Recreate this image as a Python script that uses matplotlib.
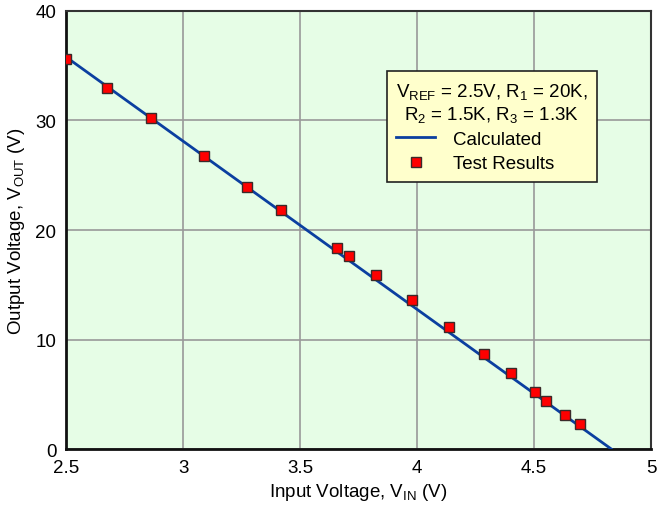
import numpy as np
import matplotlib
matplotlib.use('Agg')
import matplotlib.pyplot as plt
from matplotlib.lines import Line2D

plt.rcParams['font.family'] = ['Liberation Sans', 'DejaVu Sans']
plt.rcParams['mathtext.default'] = 'regular'

# calculated transfer line (end points)
vin_calc = [2.5, 4.83]
vout_calc = [35.8, 0.0]

# measured test results
vin_test = [2.50, 2.675, 2.863, 3.09, 3.273, 3.419, 3.658, 3.709, 3.825,
            3.979, 4.137, 4.286, 4.402, 4.504, 4.551, 4.632, 4.697]
vout_test = [35.6, 33.0, 30.2, 26.8, 23.9, 21.8, 18.4, 17.6, 15.9,
             13.6, 11.1, 8.7, 6.9, 5.2, 4.4, 3.1, 2.3]

xticks = [2.5, 3, 3.5, 4, 4.5, 5]
xticklabels = ['2.5', '3', '3.5', '4', '4.5', '5']
yticks = [0, 10, 20, 30, 40]

fig = plt.figure(figsize=(6.57, 5.10), dpi=100, facecolor='w')
ax = fig.add_axes([0.1005, 0.1176, 0.8905, 0.8589])
ax.set_facecolor('#e6fde6')

ax.plot(vin_calc, vout_calc, color='#0b3fa0', lw=2, zorder=3)
ax.plot(vin_test, vout_test, ls='none', marker='s', ms=7.9, mfc='#ff0000',
        mec='#3a2a2a', mew=1.0, zorder=4)

ax.set_xlim(2.5, 5)
ax.set_ylim(0, 40)
ax.set_xticks(xticks)
ax.set_xticklabels(xticklabels)
ax.set_yticks(yticks)
ax.grid(True, color='#999999', lw=1.2)
ax.set_axisbelow(True)
ax.tick_params(length=0, labelsize=13.5, pad=7)
ax.tick_params(axis='y', pad=7)
for s in ['left', 'bottom']:
    ax.spines[s].set_linewidth(2)
    ax.spines[s].set_color('#111111')
for s in ['top', 'right']:
    ax.spines[s].set_linewidth(1.5)
    ax.spines[s].set_color('#333333')

ax.set_xlabel('Input Voltage, V$_{IN}$ (V)', fontsize=13.5, labelpad=4)
ax.set_ylabel('Output Voltage, V$_{OUT}$ (V)', fontsize=13.5, labelpad=6)

h_line = Line2D([], [], color='#0b3fa0', lw=2)
h_mark = Line2D([], [], ls='none', marker='s', ms=7.9, mfc='#ff0000',
                mec='#3a2a2a', mew=1.0)
leg = ax.legend([h_line, h_mark], ['Calculated', 'Test Results'],
                title='V$_{REF}$ = 2.5V, R$_1$ = 20K,\nR$_2$ = 1.5K, R$_3$ = 1.3K',
                loc='upper left', bbox_to_anchor=(0.548, 0.862),
                fontsize=13.5, title_fontsize=13.5, frameon=True, fancybox=False,
                framealpha=1, facecolor='#ffffcc', edgecolor='#222222',
                handlelength=2.1, handletextpad=0.95, borderpad=0.5,
                labelspacing=0.38, borderaxespad=0, alignment='left')
leg.get_title().set_multialignment('center')
leg.get_frame().set_linewidth(1.2)

fig.savefig('out.png', dpi=100, facecolor='w')
